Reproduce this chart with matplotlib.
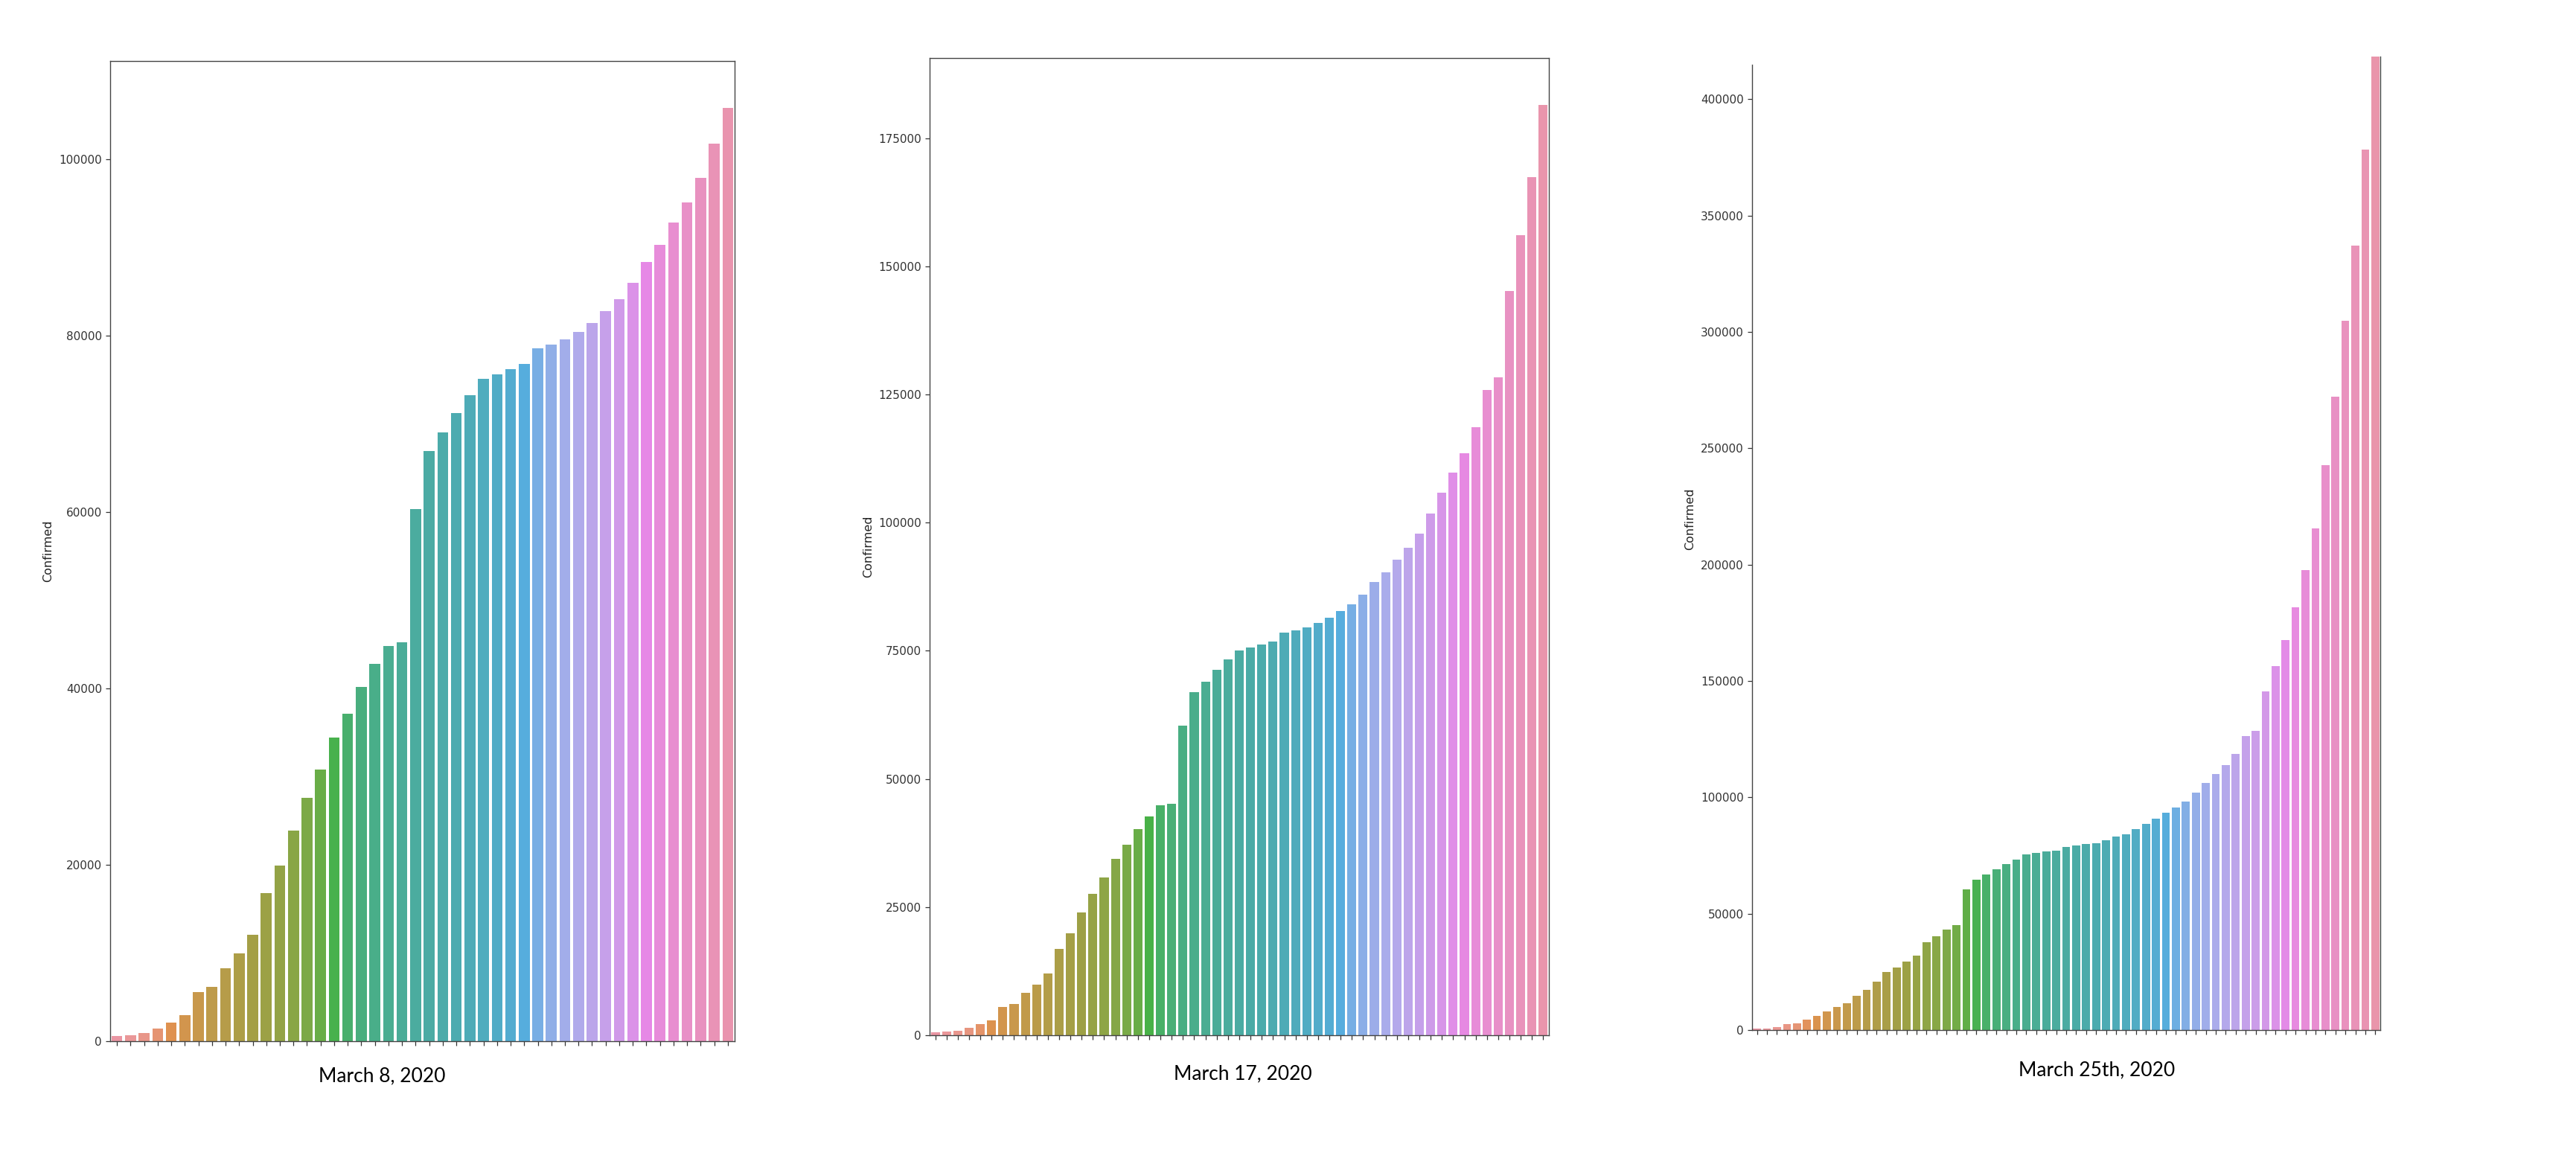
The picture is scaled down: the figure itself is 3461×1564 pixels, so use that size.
import matplotlib
matplotlib.use("Agg")
import matplotlib.pyplot as plt
import seaborn as sns
from matplotlib import font_manager
from matplotlib.ticker import MultipleLocator

# cumulative confirmed cases, one bar per day from Jan 22
confirmed_mar8 = [555, 654, 941, 1434, 2118, 2927, 5578, 6166, 8234, 9927,
                  12038, 16787, 19881, 23892, 27635, 30794, 34391, 37120,
                  40150, 42762, 44802, 45221, 60368, 66885, 69030, 71224,
                  73258, 75136, 75639, 76197, 76823, 78579, 78965, 79568,
                  80413, 81395, 82754, 84120, 86011, 88369, 90306, 92840,
                  95120, 97886, 101801, 105847]

confirmed_mar17 = [555, 654, 941, 1434, 2118, 2927, 5578, 6166, 8234, 9927,
                   12038, 16787, 19881, 23892, 27635, 30794, 34391, 37120,
                   40150, 42762, 44802, 45221, 60368, 66885, 69030, 71224,
                   73258, 75136, 75639, 76197, 76823, 78579, 78965, 79568,
                   80413, 81395, 82754, 84120, 86011, 88369, 90306, 92840,
                   95120, 97886, 101801, 105847, 109821, 113590, 118620,
                   125875, 128352, 145205, 156101, 167454, 181574]

confirmed_mar25 = [640, 650, 1170, 2450, 2880, 4370, 6080, 8100, 9810, 11510,
                   14600, 17270, 20680, 24950, 26970, 29320, 31880, 37850,
                   40400, 43280, 45200, 60340, 64710, 66950, 68980, 71220,
                   73240, 75590, 76120, 76760, 77080, 78680, 79210, 79850,
                   80380, 81450, 83050, 84120, 86350, 88490, 90720, 93280,
                   95520, 98080, 101920, 106080, 109920, 113860, 118660,
                   126230, 128680, 145600, 156400, 167600, 181700, 197600,
                   215400, 242800, 272300, 304700, 337000, 378400, 418200]

captions = ["March 8, 2020", "March 17, 2020", "March 25th, 2020"]
y_steps = [20000, 25000, 50000]

W, H = 3462, 1564
# axes boxes in pixels: left, top, right, bottom
boxes = [(148, 82, 987, 1399), (1249, 78, 2081, 1391), (2354, 11, 3198, 1384)]
caption_pos = [(513, 1453), (1670, 1450), (2817, 1445)]

names = {f.name for f in font_manager.fontManager.ttflist}
tick_font = "Liberation Sans Narrow" if "Liberation Sans Narrow" in names \
    else "DejaVu Sans"
tick_size = 13 if tick_font != "DejaVu Sans" else 11

fig = plt.figure(figsize=(W / 100, H / 100), dpi=100)

series = [confirmed_mar8, confirmed_mar17, confirmed_mar25]
for i, values in enumerate(series):
    l, t, r, b = boxes[i]
    ax = fig.add_axes([l / W, 1 - b / H, (r - l) / W, (b - t) / H])
    n = len(values)
    colors = [sns.desaturate(c, .75) for c in sns.husl_palette(n, l=.7)]
    ax.bar(range(n), values, width=0.8, color=colors)
    ax.set_xlim(-0.5, n - 0.5)
    ax.set_ylim(0, max(values) * 1.05)
    ax.set_xticks(range(n))
    ax.set_xticklabels([])
    ax.yaxis.set_major_locator(MultipleLocator(y_steps[i]))
    ax.ticklabel_format(axis="y", style="plain", useOffset=False)
    for lab in ax.get_yticklabels():
        lab.set_fontfamily(tick_font)
        lab.set_fontsize(tick_size)
    ax.tick_params(colors="#333333", length=4.5, width=0.9)
    ax.set_ylabel("Confirmed", fontsize=11.5, color="#222222")
    ax.yaxis.set_label_coords(-0.09, 0.5)
    for sp in ax.spines.values():
        sp.set_color("#444444")
        sp.set_linewidth(1.0)
    if i == 2:
        # top of this panel is cut off in the screenshot
        ax.spines["top"].set_visible(False)
        ax.spines["left"].set_bounds(0, 414700)
        ax.spines["right"].set_bounds(0, max(values))

    cx, cy = caption_pos[i]
    fig.text(cx / W, 1 - cy / H, captions[i], ha="center", va="baseline",
             fontsize=19, family=["Lato", "DejaVu Sans"], color="black")

fig.savefig("out.png", dpi=100)
